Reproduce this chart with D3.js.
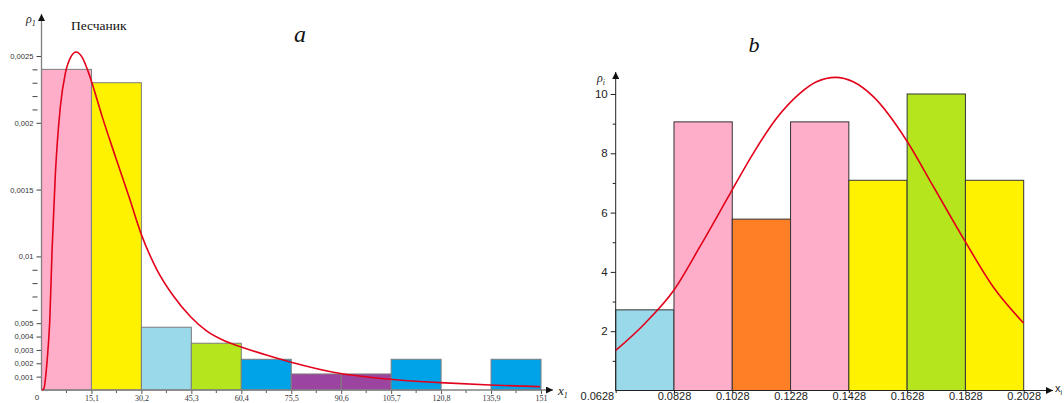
<!DOCTYPE html>
<html>
<head>
<meta charset="utf-8">
<script src="https://cdn.jsdelivr.net/npm/d3@7"></script>
<style>
  html, body { margin: 0; padding: 0; background: #fff; }
  svg { display: block; }
</style>
</head>
<body>
<svg id="chart" width="1064" height="403"></svg>
<script>
// ---------- Panel a: sandstone, density histogram ----------
const aEdges = [0, 15.1, 30.2, 45.3, 60.4, 75.5, 90.6, 105.7, 120.8, 135.9, 151];
const aDensity = [0.0024, 0.0023, 0.00047, 0.00035, 0.00023, 0.00012, 0.00012, 0.00023, 0, 0.00023];
const aTickLabels = ["15,1", "30,2", "45,3", "60,4", "75,5", "90,6", "105,7", "120,8", "135,9", "151"];
const aYTicks = [0.0001, 0.0002, 0.0003, 0.0004, 0.0005, 0.0006, 0.0007, 0.0008, 0.0009, 0.001,
                 0.0015, 0.002, 0.0021, 0.0022, 0.0023, 0.0024, 0.0025];
const aYTickLabels = ["0,001", "0,002", "0,003", "0,004", "0,005", "", "", "", "", "0,01",
                      "0,0015", "0,002", "", "", "", "", "0,0025"];
// fitted density curve
const aCurveX = [0.15, 0.7, 1.7, 2.5, 3.2, 4.2, 5.7, 7.2, 8.8, 10.5, 12.3, 14.3, 15.5, 18.3, 22.3,
                 26.4, 30.4, 34.9, 40, 45, 50, 55.1, 60.6, 68.2, 75.2, 90, 105.4, 120.5, 135.6, 150.7];
const aCurveY = [0, 0.00001, 0.00022, 0.00052, 0.00105, 0.00162, 0.00212, 0.00237, 0.00249, 0.00253,
                 0.00249, 0.00237, 0.00228, 0.00205, 0.00175, 0.00145, 0.00115, 0.0009, 0.0007, 0.00055,
                 0.00044, 0.00037, 0.00032, 0.00026, 0.00021, 0.000125, 0.00008, 0.000055, 0.000037, 0.000025];
const aColors = ["#ffaec9", "#fff200", "#99d9ea", "#b5e61d", "#00a2e8", "#9c45a0", "#9c45a0", "#00a2e8", "#ffffff", "#00a2e8"];

// ---------- Panel b ----------
const bEdges = [0.0628, 0.0828, 0.1028, 0.1228, 0.1428, 0.1628, 0.1828, 0.2028];
const bDensity = [2.72, 9.06, 5.78, 9.06, 7.09, 10.0, 7.09];
const bTickLabels = ["0.0628", "0.0828", "0.1028", "0.1228", "0.1428", "0.1628", "0.1828", "0.2028"];
const bYTicks = [1, 2, 3, 4, 5, 6, 7, 8, 9, 10];
const bYTickLabels = ["", "2", "", "4", "", "6", "", "8", "", "10"];
const bCurveX = [0.0628, 0.0729, 0.0828, 0.0917, 0.1021, 0.1100, 0.1180, 0.1260, 0.1317, 0.1383,
                 0.1443, 0.1512, 0.1625, 0.1718, 0.1824, 0.1923, 0.2028];
const bCurveY = [1.35, 2.27, 3.39, 4.85, 6.65, 8.0, 9.18, 10.02, 10.41, 10.56,
                 10.41, 9.91, 8.45, 6.88, 5.08, 3.5, 2.27];
const bColors = ["#99d9ea", "#ffaec9", "#ff7f27", "#ffaec9", "#fff200", "#b5e61d", "#fff200"];

const svg = d3.select("#chart");
svg.append("rect").attr("width", 1064).attr("height", 403).attr("fill", "#fff");

const defs = svg.append("defs");
defs.append("marker").attr("id", "arrow")
  .attr("viewBox", "0 0 10 10").attr("refX", 10).attr("refY", 5)
  .attr("markerWidth", 7).attr("markerHeight", 7).attr("markerUnits", "userSpaceOnUse")
  .attr("orient", "auto")
  .append("path").attr("d", "M0,0L10,5L0,10Z").attr("fill", "#111");

const serif = "'Liberation Serif', 'Times New Roman', serif";
const sans = "'Liberation Sans', Arial, sans-serif";

// ================= Panel a =================
const xA = d3.scaleLinear().domain([0, 151]).range([41.5, 541]);
const yA = d3.scaleLinear().domain([0, 0.0025]).range([390, 56]);
const gA = svg.append("g");

gA.selectAll("rect.bar")
  .data(aDensity.map((v, i) => ({ v, x0: aEdges[i], x1: aEdges[i + 1], c: aColors[i] })).filter(d => d.v > 0))
  .join("rect").attr("class", "bar")
  .attr("x", d => xA(d.x0)).attr("y", d => yA(d.v))
  .attr("width", d => xA(d.x1) - xA(d.x0)).attr("height", d => yA(0) - yA(d.v))
  .attr("fill", d => d.c).attr("stroke", "#7d7d7d").attr("stroke-width", 1);

// x axis
const axA = gA.append("g").attr("transform", `translate(0,${yA(0)})`)
  .call(d3.axisBottom(xA).tickValues(aEdges.slice(1))
    .tickFormat((d, i) => aTickLabels[i]).tickSize(4).tickPadding(1));
axA.select(".domain").remove();
axA.selectAll(".tick line").attr("stroke", "#555");
axA.selectAll("text").attr("font-family", serif).attr("font-size", 8).attr("fill", "#333");
// minor ticks at bin centres
gA.selectAll("line.minor").data(d3.pairs(aEdges)).join("line").attr("class", "minor")
  .attr("x1", d => xA((d[0] + d[1]) / 2)).attr("x2", d => xA((d[0] + d[1]) / 2))
  .attr("y1", yA(0)).attr("y2", yA(0) + 3).attr("stroke", "#555");
gA.append("line").attr("x1", xA(0)).attr("x2", 553).attr("y1", yA(0)).attr("y2", yA(0))
  .attr("stroke", "#808080").attr("stroke-width", 1.3).attr("marker-end", "url(#arrow)");
gA.append("text").attr("x", 37).attr("y", 400).attr("text-anchor", "middle")
  .attr("font-family", sans).attr("font-size", 8).attr("fill", "#333").text("0");

// y axis
const ayA = gA.append("g").attr("transform", `translate(${xA(0)},0)`)
  .call(d3.axisLeft(yA).tickValues(aYTicks).tickFormat((d, i) => aYTickLabels[i]).tickSize(5).tickPadding(3));
ayA.select(".domain").remove();
ayA.selectAll(".tick").each(function (d, i) {
  const t = d3.select(this);
  t.select("line").attr("stroke", "#444");
  if (aYTickLabels[i] === "") t.select("line").attr("x1", -4).attr("x2", -9);
});
ayA.selectAll("text").attr("font-family", sans).attr("font-size", 7.6).attr("fill", "#333");
gA.append("line").attr("x1", xA(0)).attr("x2", xA(0)).attr("y1", yA(0)).attr("y2", 14)
  .attr("stroke", "#808080").attr("stroke-width", 1.3).attr("marker-end", "url(#arrow)");

// fitted curve
gA.append("path")
  .datum(aCurveX.map((x, i) => [x, aCurveY[i]]))
  .attr("fill", "none").attr("stroke", "#e3001b").attr("stroke-width", 1.6)
  .attr("d", d3.line().x(d => xA(d[0])).y(d => yA(d[1])).curve(d3.curveMonotoneX));

// labels
const rhoA = gA.append("text").attr("x", 26).attr("y", 23).attr("font-family", serif)
  .attr("font-style", "italic").attr("font-size", 12).attr("fill", "#222");
rhoA.append("tspan").text("ρ");
rhoA.append("tspan").attr("font-size", 8).attr("dy", 3).text("1");
gA.append("text").attr("x", 71).attr("y", 30).attr("font-family", serif)
  .attr("font-size", 13.5).attr("fill", "#111").text("Песчаник");
gA.append("text").attr("x", 300).attr("y", 42).attr("text-anchor", "middle").attr("font-family", serif)
  .attr("font-style", "italic").attr("font-size", 24).attr("fill", "#111").text("a");
const xlabA = gA.append("text").attr("x", 558).attr("y", 395).attr("font-family", serif)
  .attr("font-style", "italic").attr("font-size", 13).attr("fill", "#222");
xlabA.append("tspan").text("x");
xlabA.append("tspan").attr("font-size", 8).attr("dy", 3).text("1");

// ================= Panel b =================
const xB = d3.scaleLinear().domain([0.0628, 0.2028]).range([615.7, 1023.7]);
const yB = d3.scaleLinear().domain([0, 10]).range([390.5, 94]);
const gB = svg.append("g");

gB.selectAll("rect.bar")
  .data(bDensity.map((v, i) => ({ v, x0: bEdges[i], x1: bEdges[i + 1], c: bColors[i] })))
  .join("rect").attr("class", "bar")
  .attr("x", d => xB(d.x0)).attr("y", d => yB(d.v))
  .attr("width", d => xB(d.x1) - xB(d.x0)).attr("height", d => yB(0) - yB(d.v))
  .attr("fill", d => d.c).attr("stroke", "#333").attr("stroke-width", 1);

// x axis
const axB = gB.append("g").attr("transform", `translate(0,${yB(0)})`)
  .call(d3.axisBottom(xB).tickValues(bEdges).tickFormat((d, i) => bTickLabels[i]).tickSize(2.5));
axB.select(".domain").remove();
axB.selectAll(".tick line").attr("stroke", "#222");
axB.selectAll("text").attr("font-family", sans).attr("font-size", 11).attr("fill", "#222")
  .attr("dy", 0).attr("y", 9.8);
axB.select(".tick text").attr("text-anchor", "end").attr("x", -2).attr("y", 9);
gB.append("line").attr("x1", xB.range()[0]).attr("x2", 1053).attr("y1", yB(0)).attr("y2", yB(0))
  .attr("stroke", "#222").attr("stroke-width", 1).attr("marker-end", "url(#arrow)");

// y axis
const ayB = gB.append("g").attr("transform", `translate(${xB.range()[0]},0)`)
  .call(d3.axisLeft(yB).tickValues(bYTicks).tickFormat((d, i) => bYTickLabels[i]).tickSize(5).tickPadding(3));
ayB.select(".domain").remove();
ayB.selectAll(".tick").each(function (d, i) {
  const t = d3.select(this);
  t.select("line").attr("stroke", "#222");
  if (bYTickLabels[i] === "") t.select("line").attr("x2", -3);
});
ayB.selectAll("text").attr("font-family", sans).attr("font-size", 11.5).attr("fill", "#222");
gB.append("line").attr("x1", xB.range()[0]).attr("x2", xB.range()[0]).attr("y1", yB(0)).attr("y2", 72)
  .attr("stroke", "#222").attr("stroke-width", 1).attr("marker-end", "url(#arrow)");

// fitted curve
gB.append("path")
  .datum(bCurveX.map((x, i) => [x, bCurveY[i]]))
  .attr("fill", "none").attr("stroke", "#e3001b").attr("stroke-width", 1.6)
  .attr("d", d3.line().x(d => xB(d[0])).y(d => yB(d[1])).curve(d3.curveMonotoneX));

// labels
const rhoB = gB.append("text").attr("x", 597).attr("y", 82).attr("font-family", serif)
  .attr("font-style", "italic").attr("font-size", 12).attr("fill", "#222");
rhoB.append("tspan").text("ρ");
rhoB.append("tspan").attr("font-size", 8).attr("dy", 3).text("i");
gB.append("text").attr("x", 754).attr("y", 52).attr("text-anchor", "middle").attr("font-family", serif)
  .attr("font-style", "italic").attr("font-size", 22).attr("fill", "#111").text("b");
const xlabB = gB.append("text").attr("x", 1055).attr("y", 392).attr("font-family", sans)
  .attr("font-size", 11).attr("fill", "#222");
xlabB.append("tspan").text("x");
xlabB.append("tspan").attr("font-size", 7).attr("dy", 3).text("i");
</script>
</body>
</html>
